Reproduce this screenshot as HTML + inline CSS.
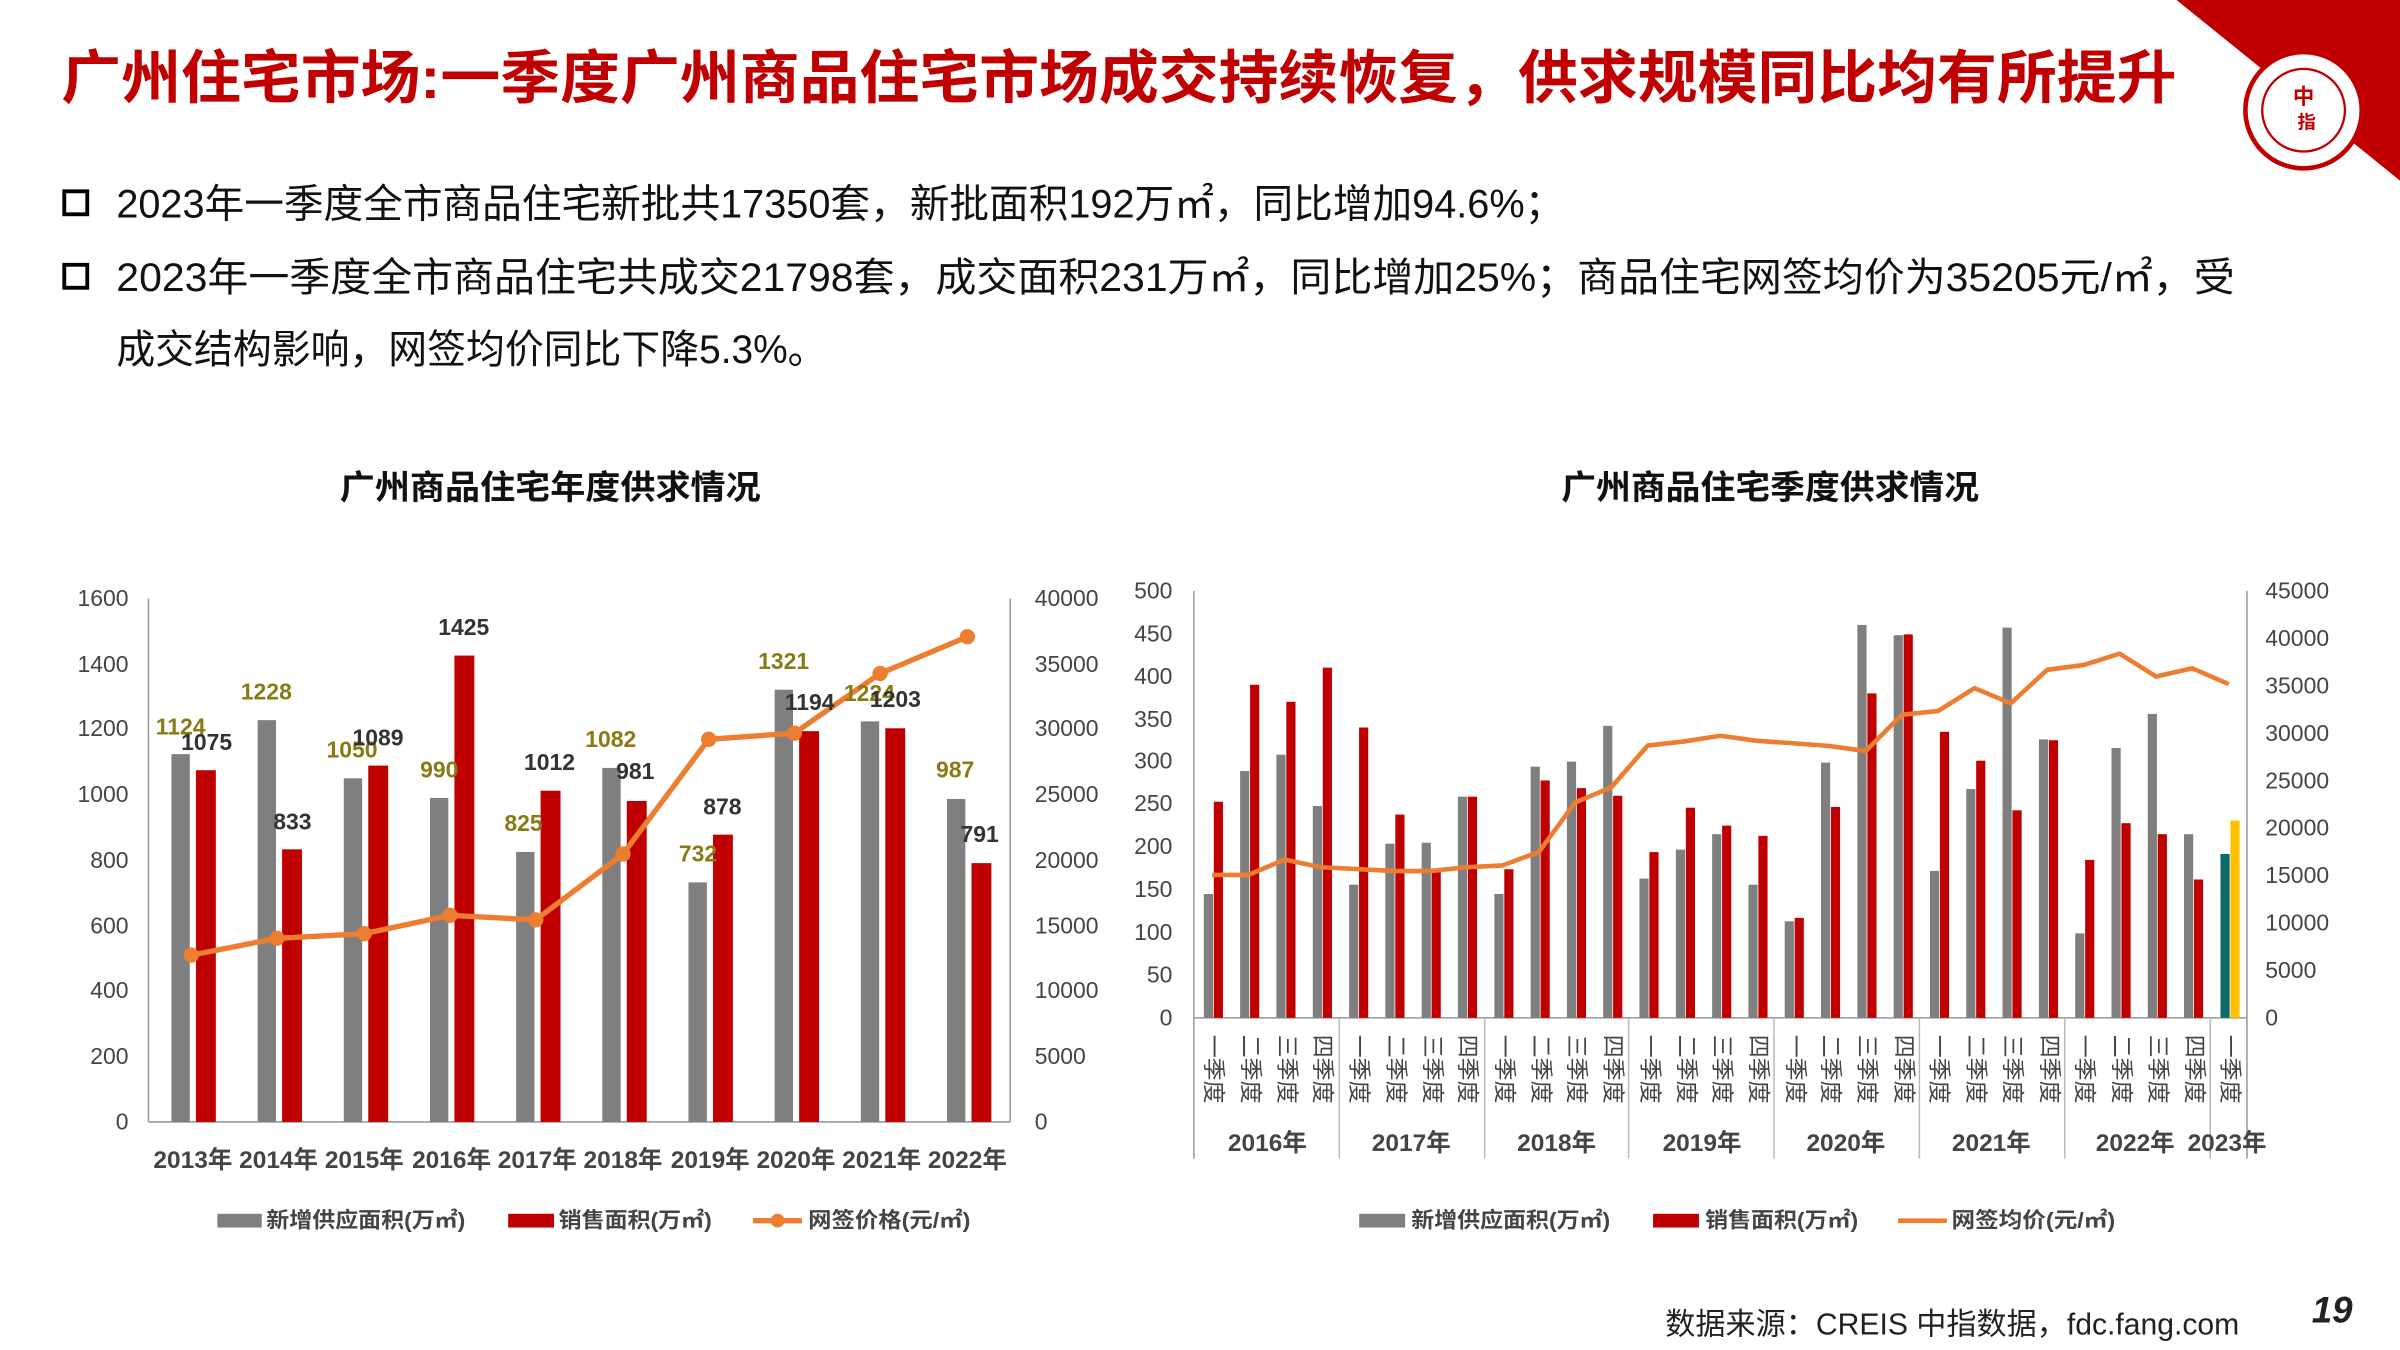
<!DOCTYPE html>
<html><head><meta charset="utf-8"><style>
html,body{margin:0;padding:0;background:#fff;}
svg{display:block;}
text{font-family:"Liberation Sans","Noto Sans CJK SC",sans-serif;}
</style></head><body>
<svg width="2400" height="1350" viewBox="0 0 1568 882" xmlns="http://www.w3.org/2000/svg">
<rect width="1568" height="882" fill="#fff"/>
<polygon points="1422,0 1568,0 1568,118" fill="#c00000"/>
<circle cx="1505" cy="72" r="38" fill="#fff" stroke="#c00000" stroke-width="3"/>
<circle cx="1505" cy="72" r="27" fill="none" stroke="#c00000" stroke-width="1.5"/>
<text x="1505" y="68" font-size="14" font-weight="bold" fill="#c00000" text-anchor="middle">中</text>
<text x="1507" y="84" font-size="12" font-weight="bold" fill="#c00000" text-anchor="middle">指</text>
<text x="40" y="64" font-size="38" font-weight="bold" fill="#c00000" textLength="1382" lengthAdjust="spacingAndGlyphs">广州住宅市场:一季度广州商品住宅市场成交持续恢复，供求规模同比均有所提升</text>
<rect x="42" y="125" width="15" height="15" fill="none" stroke="#000" stroke-width="2.5"/>
<text x="76" y="142" font-size="26" fill="#111" textLength="946" lengthAdjust="spacingAndGlyphs">2023年一季度全市商品住宅新批共17350套，新批面积192万㎡，同比增加94.6%；</text>
<rect x="42" y="173" width="15" height="15" fill="none" stroke="#000" stroke-width="2.5"/>
<text x="76" y="190" font-size="26" fill="#111" textLength="1384" lengthAdjust="spacingAndGlyphs">2023年一季度全市商品住宅共成交21798套，成交面积231万㎡，同比增加25%；商品住宅网签均价为35205元/㎡，受</text>
<text x="76" y="237" font-size="26" fill="#111" textLength="464" lengthAdjust="spacingAndGlyphs">成交结构影响，网签均价同比下降5.3%。</text>
<text x="222" y="326" font-size="22" font-weight="bold" fill="#111" textLength="275" lengthAdjust="spacingAndGlyphs">广州商品住宅年度供求情况</text>
<text x="1020" y="326" font-size="22" font-weight="bold" fill="#111" textLength="273" lengthAdjust="spacingAndGlyphs">广州商品住宅季度供求情况</text>

<!-- LEFT CHART -->
<g font-size="15" fill="#444">
<line x1="97" y1="391" x2="97" y2="733" stroke="#999"/>
<line x1="660" y1="391" x2="660" y2="733" stroke="#999"/>
<line x1="97" y1="733" x2="660" y2="733" stroke="#999"/>
<g text-anchor="end">
<text x="84" y="738">0</text><text x="84" y="695">200</text><text x="84" y="652">400</text><text x="84" y="610">600</text><text x="84" y="567">800</text><text x="84" y="524">1000</text><text x="84" y="481">1200</text><text x="84" y="439">1400</text><text x="84" y="396">1600</text>
</g>
<g>
<text x="676" y="738">0</text><text x="676" y="695">5000</text><text x="676" y="652">10000</text><text x="676" y="610">15000</text><text x="676" y="567">20000</text><text x="676" y="524">25000</text><text x="676" y="481">30000</text><text x="676" y="439">35000</text><text x="676" y="396">40000</text>
</g>
<g fill="#7f7f7f">
<rect x="112" y="492.7" width="12" height="240.3"/><rect x="168.3" y="470.5" width="12" height="262.5"/><rect x="224.6" y="508.5" width="12" height="224.5"/><rect x="280.9" y="521.3" width="12" height="211.7"/><rect x="337.2" y="556.6" width="12" height="176.4"/><rect x="393.5" y="501.7" width="12" height="231.3"/><rect x="449.8" y="576.5" width="12" height="156.5"/><rect x="506.1" y="450.6" width="12" height="282.4"/><rect x="562.4" y="471.3" width="12" height="261.7"/><rect x="618.7" y="522" width="12" height="211"/>
</g>
<g fill="#c00000">
<rect x="128" y="503.2" width="13" height="229.8"/><rect x="184.3" y="554.9" width="13" height="178.1"/><rect x="240.6" y="500.2" width="13" height="232.8"/><rect x="296.9" y="428.3" width="13" height="304.7"/><rect x="353.2" y="516.6" width="13" height="216.4"/><rect x="409.5" y="523.3" width="13" height="209.7"/><rect x="465.8" y="545.3" width="13" height="187.7"/><rect x="522.1" y="477.7" width="13" height="255.3"/><rect x="578.4" y="475.8" width="13" height="257.2"/><rect x="634.7" y="563.9" width="13" height="169.1"/>
</g>
<polyline points="125,624 181,613 238,610 294,598 350,601 407,558 463,483 519,479 575,440 632,416" fill="none" stroke="#ed7d31" stroke-width="3.5" stroke-linejoin="round"/>
<g fill="#ed7d31"><circle cx="125" cy="624" r="5"/><circle cx="181" cy="613" r="5"/><circle cx="238" cy="610" r="5"/><circle cx="294" cy="598" r="5"/><circle cx="350" cy="601" r="5"/><circle cx="407" cy="558" r="5"/><circle cx="463" cy="483" r="5"/><circle cx="519" cy="479" r="5"/><circle cx="575" cy="440" r="5"/><circle cx="632" cy="416" r="5"/></g>
<g font-weight="bold" font-size="15" text-anchor="middle" fill="#8a7a14">
<text x="118" y="480">1124</text><text x="174" y="457">1228</text><text x="230" y="495">1050</text><text x="287" y="508">990</text><text x="342" y="543">825</text><text x="399" y="488">1082</text><text x="456" y="563">732</text><text x="512" y="437">1321</text><text x="568" y="458">1224</text><text x="624" y="508">987</text>
</g>
<g font-weight="bold" font-size="15" text-anchor="middle" fill="#333">
<text x="135" y="490">1075</text><text x="191" y="542">833</text><text x="247" y="487">1089</text><text x="303" y="415">1425</text><text x="359" y="503">1012</text><text x="415" y="509">981</text><text x="472" y="532">878</text><text x="529" y="464">1194</text><text x="585" y="462">1203</text><text x="640" y="550">791</text>
</g>
<g font-weight="bold" font-size="16" text-anchor="middle" fill="#444">
<text x="126" y="763">2013年</text><text x="182" y="763">2014年</text><text x="238" y="763">2015年</text><text x="295" y="763">2016年</text><text x="351" y="763">2017年</text><text x="407" y="763">2018年</text><text x="464" y="763">2019年</text><text x="520" y="763">2020年</text><text x="576" y="763">2021年</text><text x="632" y="763">2022年</text>
</g>
<g font-size="14" font-weight="bold" fill="#444">
<rect x="142" y="793" width="29" height="9" fill="#7f7f7f"/><text x="174" y="802" textLength="130" lengthAdjust="spacingAndGlyphs">新增供应面积(万㎡)</text>
<rect x="332" y="793" width="30" height="9" fill="#c00000"/><text x="365" y="802" textLength="100" lengthAdjust="spacingAndGlyphs">销售面积(万㎡)</text>
<line x1="492" y1="797.5" x2="524" y2="797.5" stroke="#ed7d31" stroke-width="3.5"/><circle cx="508" cy="797.5" r="4.5" fill="#ed7d31"/><text x="528" y="802" textLength="106" lengthAdjust="spacingAndGlyphs">网签价格(元/㎡)</text>
</g>
</g>

<!-- RIGHT CHART -->
<g font-size="15" fill="#444">
<line x1="780" y1="386" x2="780" y2="757" stroke="#999"/>
<line x1="1468" y1="386" x2="1468" y2="757" stroke="#999"/>
<line x1="780" y1="665" x2="1468" y2="665" stroke="#999"/>
<g stroke="#bbb"><line x1="875" y1="665" x2="875" y2="757"/><line x1="970" y1="665" x2="970" y2="757"/><line x1="1064" y1="665" x2="1064" y2="757"/><line x1="1159" y1="665" x2="1159" y2="757"/><line x1="1254" y1="665" x2="1254" y2="757"/><line x1="1349" y1="665" x2="1349" y2="757"/><line x1="1444" y1="665" x2="1444" y2="757"/></g>
<g text-anchor="end">
<text x="766" y="670">0</text><text x="766" y="642">50</text><text x="766" y="614">100</text><text x="766" y="586">150</text><text x="766" y="558">200</text><text x="766" y="530">250</text><text x="766" y="502">300</text><text x="766" y="475">350</text><text x="766" y="447">400</text><text x="766" y="419">450</text><text x="766" y="391">500</text>
</g>
<g>
<text x="1480" y="670">0</text><text x="1480" y="639">5000</text><text x="1480" y="608">10000</text><text x="1480" y="577">15000</text><text x="1480" y="546">20000</text><text x="1480" y="515">25000</text><text x="1480" y="484">30000</text><text x="1480" y="453">35000</text><text x="1480" y="422">40000</text><text x="1480" y="391">45000</text>
</g>
<g fill="#7f7f7f">
<rect x="786.5" y="584.1" width="6" height="80.9"/><rect x="810.2" y="503.7" width="6" height="161.3"/><rect x="833.9" y="493.1" width="6" height="171.9"/><rect x="857.7" y="526.6" width="6" height="138.4"/>
<rect x="881.4" y="578" width="6" height="87"/><rect x="905.1" y="551.2" width="6" height="113.8"/><rect x="928.8" y="550.6" width="6" height="114.4"/><rect x="952.5" y="520.5" width="6" height="144.5"/>
<rect x="976.3" y="584.1" width="6" height="80.9"/><rect x="1000" y="500.9" width="6" height="164.1"/><rect x="1023.7" y="497.6" width="6" height="167.4"/><rect x="1047.4" y="474.2" width="6" height="190.8"/>
<rect x="1071.1" y="574" width="6" height="91"/><rect x="1094.9" y="555.1" width="6" height="109.9"/><rect x="1118.6" y="545" width="6" height="120"/><rect x="1142.3" y="578" width="6" height="87"/>
<rect x="1166" y="601.9" width="6" height="63.1"/><rect x="1189.7" y="498.2" width="6" height="166.8"/><rect x="1213.5" y="408.3" width="6" height="256.7"/><rect x="1237.2" y="415" width="6" height="250"/>
<rect x="1260.9" y="569" width="6" height="96"/><rect x="1284.6" y="515.5" width="6" height="149.5"/><rect x="1308.3" y="410" width="6" height="255"/><rect x="1332.1" y="483.1" width="6" height="181.9"/>
<rect x="1355.8" y="609.8" width="6" height="55.2"/><rect x="1379.5" y="488.7" width="6" height="176.3"/><rect x="1403.2" y="466.4" width="6" height="198.6"/><rect x="1426.9" y="545" width="6" height="120"/>
<rect x="1450.7" y="557.9" width="6" height="107.1" fill="#0e6a6a"/>
</g>
<g fill="#c00000">
<rect x="793" y="523.8" width="6" height="141.2"/><rect x="816.7" y="447.4" width="6" height="217.6"/><rect x="840.4" y="458.5" width="6" height="206.5"/><rect x="864.2" y="436.2" width="6" height="228.8"/>
<rect x="887.9" y="475.3" width="6" height="189.7"/><rect x="911.6" y="532.2" width="6" height="132.8"/><rect x="935.3" y="569" width="6" height="96"/><rect x="959" y="520.5" width="6" height="144.5"/>
<rect x="982.8" y="567.9" width="6" height="97.1"/><rect x="1006.5" y="509.9" width="6" height="155.1"/><rect x="1030.2" y="514.9" width="6" height="150.1"/><rect x="1053.9" y="519.9" width="6" height="145.1"/>
<rect x="1077.6" y="556.7" width="6" height="108.3"/><rect x="1101.4" y="527.7" width="6" height="137.3"/><rect x="1125.1" y="539.4" width="6" height="125.6"/><rect x="1148.8" y="546.1" width="6" height="118.9"/>
<rect x="1172.5" y="599.7" width="6" height="65.3"/><rect x="1196.2" y="527.2" width="6" height="137.8"/><rect x="1220" y="453" width="6" height="212"/><rect x="1243.7" y="414.5" width="6" height="250.5"/>
<rect x="1267.4" y="478.1" width="6" height="186.9"/><rect x="1291.1" y="497" width="6" height="168"/><rect x="1314.8" y="529.4" width="6" height="135.6"/><rect x="1338.6" y="483.6" width="6" height="181.4"/>
<rect x="1362.3" y="561.8" width="6" height="103.2"/><rect x="1386" y="537.8" width="6" height="127.2"/><rect x="1409.7" y="545" width="6" height="120"/><rect x="1433.4" y="574.6" width="6" height="90.4"/>
<rect x="1457.2" y="536.1" width="6" height="128.9" fill="#ffc000"/>
</g>
<polyline points="791.9,571.6 815.6,571.6 839.3,561.6 863.1,566.6 886.8,567.8 910.5,569.1 934.2,569.1 957.9,566.6 981.7,565.4 1005.4,556.6 1029.1,524.3 1052.8,514.3 1076.5,487.1 1100.3,484.4 1124,480.7 1147.7,484 1171.4,485.6 1195.1,487.4 1218.9,490.7 1242.6,467 1266.3,464.5 1290,449.6 1313.7,459.5 1337.5,437.6 1361.2,434.5 1384.9,427.1 1408.6,442 1432.3,436.6 1456.1,447" fill="none" stroke="#ed7d31" stroke-width="3" stroke-linejoin="round"/>
<g font-size="15" fill="#444">
<text transform="translate(788,676) rotate(90)">一季度</text><text transform="translate(812,676) rotate(90)">二季度</text><text transform="translate(836,676) rotate(90)">三季度</text><text transform="translate(859,676) rotate(90)">四季度</text>
<text transform="translate(883,676) rotate(90)">一季度</text><text transform="translate(907,676) rotate(90)">二季度</text><text transform="translate(931,676) rotate(90)">三季度</text><text transform="translate(954,676) rotate(90)">四季度</text>
<text transform="translate(978,676) rotate(90)">一季度</text><text transform="translate(1002,676) rotate(90)">二季度</text><text transform="translate(1025,676) rotate(90)">三季度</text><text transform="translate(1049,676) rotate(90)">四季度</text>
<text transform="translate(1073,676) rotate(90)">一季度</text><text transform="translate(1097,676) rotate(90)">二季度</text><text transform="translate(1120,676) rotate(90)">三季度</text><text transform="translate(1144,676) rotate(90)">四季度</text>
<text transform="translate(1168,676) rotate(90)">一季度</text><text transform="translate(1191,676) rotate(90)">二季度</text><text transform="translate(1215,676) rotate(90)">三季度</text><text transform="translate(1239,676) rotate(90)">四季度</text>
<text transform="translate(1262,676) rotate(90)">一季度</text><text transform="translate(1286,676) rotate(90)">二季度</text><text transform="translate(1310,676) rotate(90)">三季度</text><text transform="translate(1334,676) rotate(90)">四季度</text>
<text transform="translate(1357,676) rotate(90)">一季度</text><text transform="translate(1381,676) rotate(90)">二季度</text><text transform="translate(1405,676) rotate(90)">三季度</text><text transform="translate(1429,676) rotate(90)">四季度</text>
<text transform="translate(1452,676) rotate(90)">一季度</text>
</g>
<g font-weight="bold" font-size="16" text-anchor="middle" fill="#444">
<text x="828" y="752">2016年</text><text x="922" y="752">2017年</text><text x="1017" y="752">2018年</text><text x="1112" y="752">2019年</text><text x="1206" y="752">2020年</text><text x="1301" y="752">2021年</text><text x="1395" y="752">2022年</text><text x="1455" y="752">2023年</text>
</g>
<g font-size="14" font-weight="bold" fill="#444">
<rect x="888" y="793" width="30" height="9" fill="#7f7f7f"/><text x="922" y="802" textLength="130" lengthAdjust="spacingAndGlyphs">新增供应面积(万㎡)</text>
<rect x="1080" y="793" width="30" height="9" fill="#c00000"/><text x="1114" y="802" textLength="100" lengthAdjust="spacingAndGlyphs">销售面积(万㎡)</text>
<line x1="1240" y1="797.5" x2="1272" y2="797.5" stroke="#ed7d31" stroke-width="3"/><text x="1275" y="802" textLength="107" lengthAdjust="spacingAndGlyphs">网签均价(元/㎡)</text>
</g>
</g>
<text x="1088" y="872" font-size="20" fill="#222" textLength="375" lengthAdjust="spacingAndGlyphs">数据来源：CREIS 中指数据，fdc.fang.com</text>
<text x="1537" y="864" font-size="24" font-weight="bold" font-style="italic" fill="#222" text-anchor="end">19</text>
</svg>
</body></html>
